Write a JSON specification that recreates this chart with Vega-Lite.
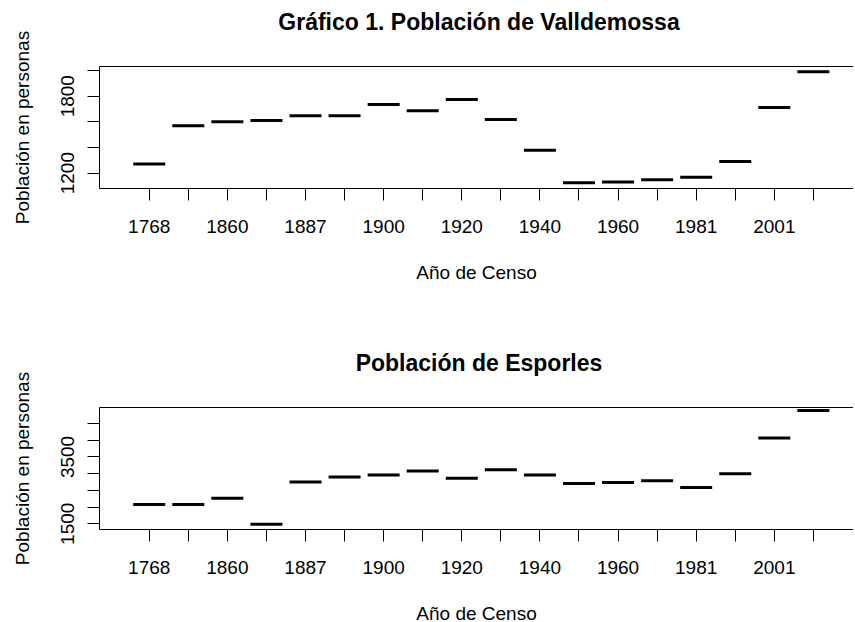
{
  "$schema": "https://vega.github.io/schema/vega-lite/v6.json",
  "background": "white",
  "padding": {"left": 12, "top": 12, "right": 0, "bottom": 0},
  "config": {
    "font": "Liberation Sans",
    "view": {"stroke": null},
    "axis": {
      "domainColor": "black", "tickColor": "black", "labelColor": "black", "titleColor": "black",
      "labelFont": "Liberation Sans", "titleFont": "Liberation Sans",
      "labelFontSize": 19, "titleFontSize": 19, "titleFontWeight": "normal",
      "tickSize": 12, "grid": false, "domainWidth": 1, "tickWidth": 1
    },
    "title": {"font": "Liberation Sans", "fontSize": 23, "fontWeight": "bold", "color": "black", "frame": "group"}
  },
  "spacing": 71,
  "vconcat": [
    {
      "width": 754, "height": 122,
      "title": {"text": "Gráfico 1. Población de Valldemossa", "offset": -23, "baseline": "alphabetic", "dx": 3},
      "data": {"values": [
        {"censo": "1768", "poblacion": 1268}, {"censo": "1787", "poblacion": 1565},
        {"censo": "1860", "poblacion": 1596}, {"censo": "1877", "poblacion": 1606},
        {"censo": "1887", "poblacion": 1643}, {"censo": "1897", "poblacion": 1643},
        {"censo": "1900", "poblacion": 1731}, {"censo": "1910", "poblacion": 1682},
        {"censo": "1920", "poblacion": 1770}, {"censo": "1930", "poblacion": 1614},
        {"censo": "1940", "poblacion": 1374}, {"censo": "1950", "poblacion": 1120},
        {"censo": "1960", "poblacion": 1127}, {"censo": "1970", "poblacion": 1145},
        {"censo": "1981", "poblacion": 1163}, {"censo": "1991", "poblacion": 1286},
        {"censo": "2001", "poblacion": 1708}, {"censo": "2011", "poblacion": 1987}
      ]},
      "layer": [
        {
          "mark": {"type": "tick", "size": 32, "thickness": 3, "color": "black", "opacity": 1},
          "encoding": {
            "x": {"field": "censo", "type": "ordinal",
              "scale": {"type": "band", "paddingInner": 0.7, "paddingOuter": 1, "align": 0.568, "round": false},
              "axis": {"orient": "bottom", "bandPosition": 0.5, "labelAngle": 0, "labelPadding": 17, "labelOverlap": false,
                "labelExpr": "indexof(['1768','1860','1887','1900','1920','1940','1960','1981','2001'], datum.label) >= 0 ? datum.label : ''",
                "title": "Año de Censo", "titlePadding": 27}},
            "y": {"field": "poblacion", "type": "quantitative",
              "scale": {"domain": [1080, 2032], "nice": false, "zero": false},
              "axis": {"values": [1200, 1400, 1600, 1800, 2000], "format": "d", "labelOverlap": false, "tickCount": 5,
                "labelExpr": "datum.value == 1200 || datum.value == 1800 ? datum.label : ''",
                "labelAngle": 270, "labelAlign": "center", "labelBaseline": "alphabetic", "labelPadding": 14,
                "title": "Población en personas", "titleBaseline": "alphabetic", "titlePadding": 30}}
          }
        },
        {
          "mark": {"type": "tick", "opacity": 0},
          "encoding": {
            "x": {"field": "censo", "type": "ordinal", "axis": {"orient": "top", "labels": false, "ticks": false, "title": null}},
            "y": {"field": "poblacion", "type": "quantitative",
              "axis": {"values": [1200, 1400, 1600, 1800, 2000], "format": "d", "labelOverlap": false, "tickCount": 5,
                "labelExpr": "datum.value == 1200 || datum.value == 1800 ? datum.label : ''",
                "labelAngle": 270, "labelAlign": "center", "labelBaseline": "alphabetic", "labelPadding": 14,
                "title": "Población en personas", "titleBaseline": "alphabetic", "titlePadding": 30}}
          }
        }
      ],
      "resolve": {"axis": {"x": "independent"}}
    },
    {
      "width": 754, "height": 122,
      "title": {"text": "Población de Esporles", "offset": -23, "baseline": "alphabetic", "dx": 3},
      "data": {"values": [
        {"censo": "1768", "poblacion": 2063}, {"censo": "1787", "poblacion": 2063},
        {"censo": "1860", "poblacion": 2253}, {"censo": "1877", "poblacion": 1470},
        {"censo": "1887", "poblacion": 2735}, {"censo": "1897", "poblacion": 2885},
        {"censo": "1900", "poblacion": 2945}, {"censo": "1910", "poblacion": 3067},
        {"censo": "1920", "poblacion": 2845}, {"censo": "1930", "poblacion": 3106},
        {"censo": "1940", "poblacion": 2945}, {"censo": "1950", "poblacion": 2694},
        {"censo": "1960", "poblacion": 2724}, {"censo": "1970", "poblacion": 2774},
        {"censo": "1981", "poblacion": 2575}, {"censo": "1991", "poblacion": 2985},
        {"censo": "2001", "poblacion": 4051}, {"censo": "2011", "poblacion": 4873}
      ]},
      "layer": [
        {
          "mark": {"type": "tick", "size": 32, "thickness": 3, "color": "black", "opacity": 1},
          "encoding": {
            "x": {"field": "censo", "type": "ordinal",
              "scale": {"type": "band", "paddingInner": 0.7, "paddingOuter": 1, "align": 0.568, "round": false},
              "axis": {"orient": "bottom", "bandPosition": 0.5, "labelAngle": 0, "labelPadding": 17, "labelOverlap": false,
                "labelExpr": "indexof(['1768','1860','1887','1900','1920','1940','1960','1981','2001'], datum.label) >= 0 ? datum.label : ''",
                "title": "Año de Censo", "titlePadding": 27}},
            "y": {"field": "poblacion", "type": "quantitative",
              "scale": {"domain": [1329, 4981], "nice": false, "zero": false},
              "axis": {"values": [1500, 2000, 2500, 3000, 3500, 4000, 4500], "format": "d", "labelOverlap": false, "tickCount": 7,
                "labelExpr": "datum.value == 1500 || datum.value == 3500 ? datum.label : ''",
                "labelAngle": 270, "labelAlign": "center", "labelBaseline": "alphabetic", "labelPadding": 14,
                "title": "Población en personas", "titleBaseline": "alphabetic", "titlePadding": 30}}
          }
        },
        {
          "mark": {"type": "tick", "opacity": 0},
          "encoding": {
            "x": {"field": "censo", "type": "ordinal", "axis": {"orient": "top", "labels": false, "ticks": false, "title": null}},
            "y": {"field": "poblacion", "type": "quantitative",
              "axis": {"values": [1500, 2000, 2500, 3000, 3500, 4000, 4500], "format": "d", "labelOverlap": false, "tickCount": 7,
                "labelExpr": "datum.value == 1500 || datum.value == 3500 ? datum.label : ''",
                "labelAngle": 270, "labelAlign": "center", "labelBaseline": "alphabetic", "labelPadding": 14,
                "title": "Población en personas", "titleBaseline": "alphabetic", "titlePadding": 30}}
          }
        }
      ],
      "resolve": {"axis": {"x": "independent"}}
    }
  ]
}
